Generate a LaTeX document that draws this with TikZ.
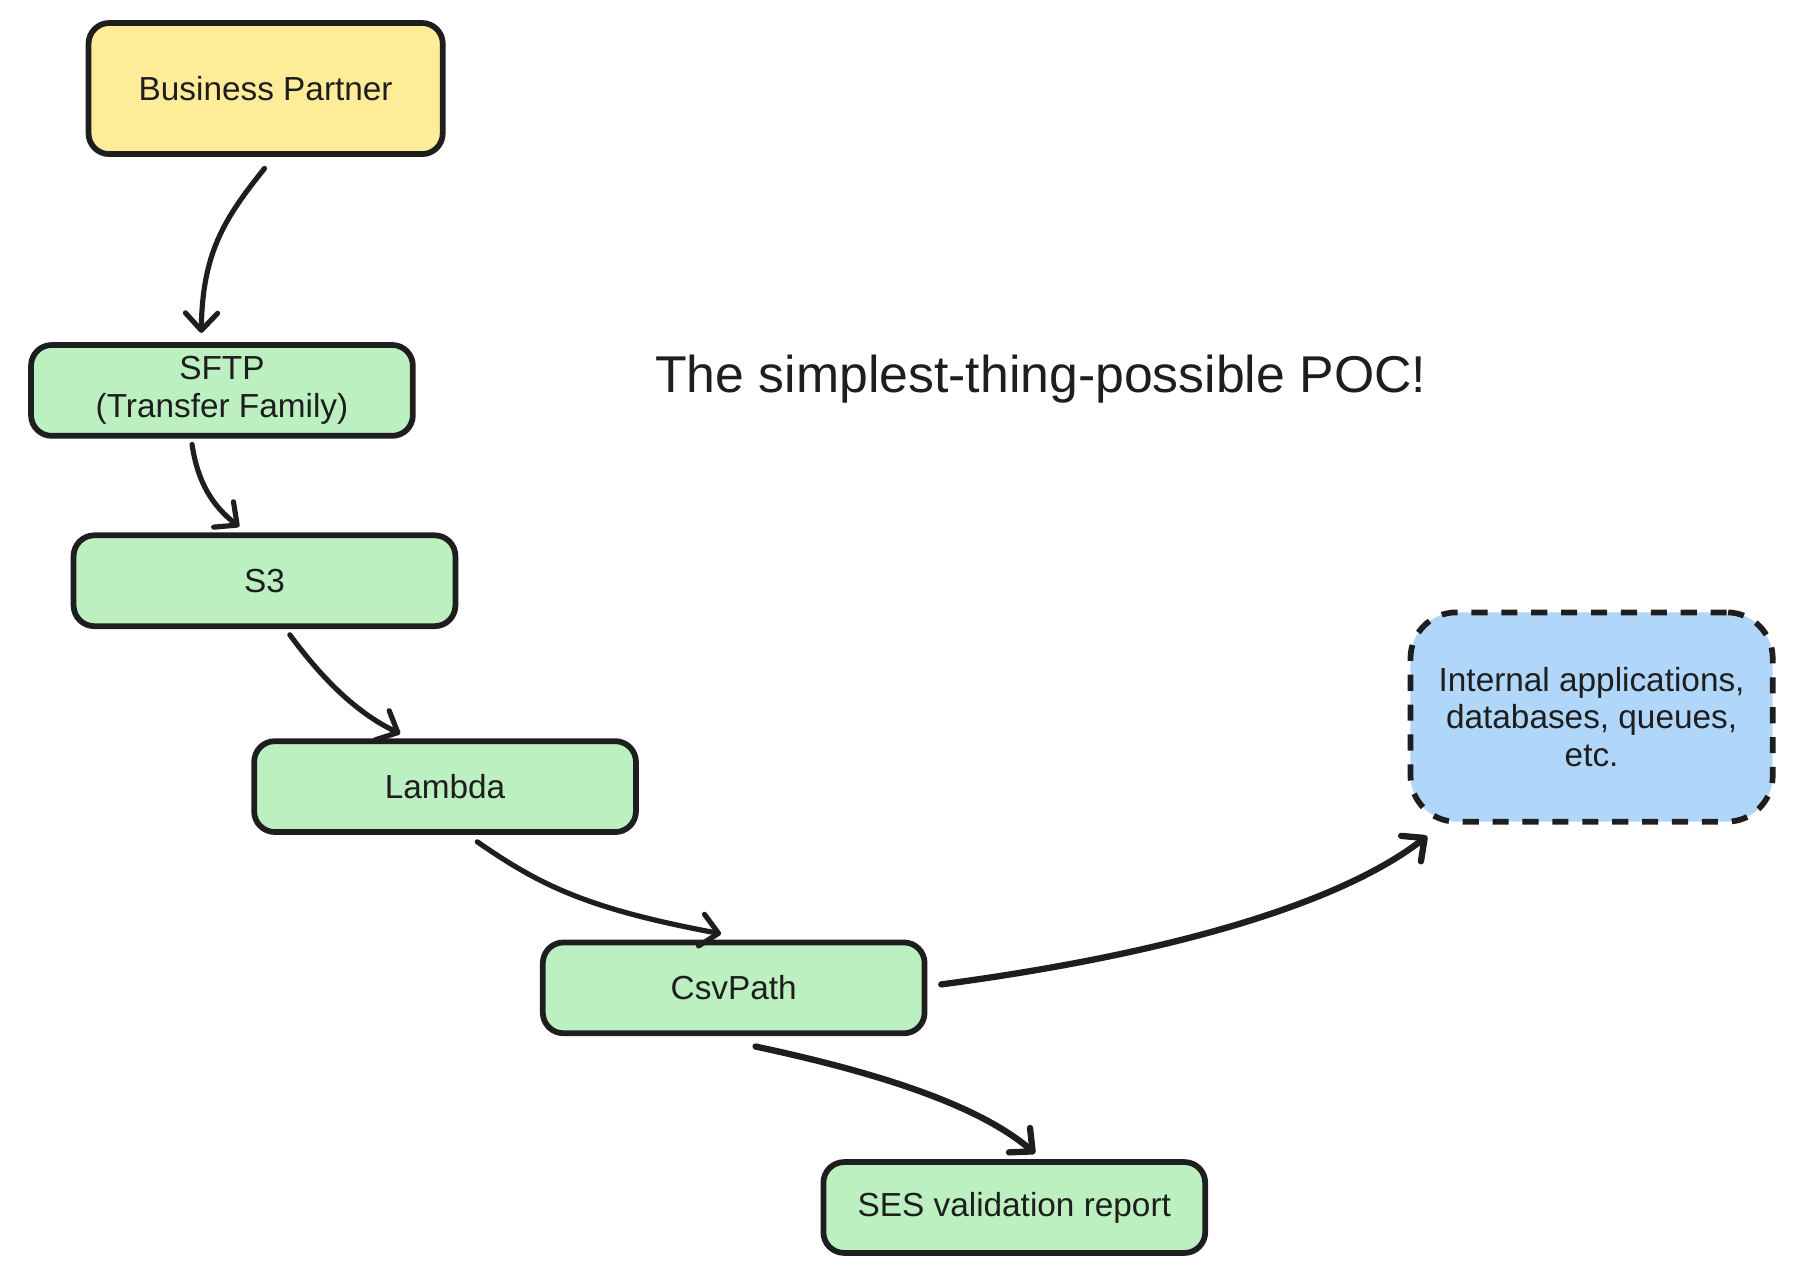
\documentclass[tikz,border=0pt]{standalone}
\usepackage{fontspec}
\setmainfont{Liberation Sans}
\usetikzlibrary{arrows.meta,calc}
\definecolor{bpyellow}{HTML}{FFEC99}
\definecolor{bxgreen}{HTML}{BCF0C0}
\definecolor{bxblue}{HTML}{B0D6FA}
\definecolor{ink}{HTML}{1E1E1E}
\begin{document}
\begin{tikzpicture}[x=1pt,y=-1pt,
  box/.style={draw=ink, line width=5pt, rounded corners=18pt, minimum width=332pt,
    minimum height=79pt, align=center, text=ink, inner sep=0pt,
    font=\fontsize{29}{33}\selectfont},
  greenbox/.style={box, fill=bxgreen},
  conn/.style={draw=ink, line width=4.5pt, line cap=round, line join=round,
    -{Straight Barb[length=15pt,width=28pt,line cap=round,line join=round]}},
  thickconn/.style={conn, line width=5.5pt}
]
\useasboundingbox (0,0) rectangle (1560,1108);

\node[box, fill=bpyellow, minimum width=308pt, minimum height=114pt] (bp) at (231,77) {Business Partner};
\node[greenbox] (sftp) at (193,339.5) {SFTP\\(Transfer Family)};
\node[greenbox] (s3) at (230,505) {S3};
\node[greenbox] (lambda) at (387,684) {Lambda};
\node[greenbox] (csv) at (638,859) {CsvPath};
\node[greenbox] (ses) at (882,1050) {SES validation report};
\node[draw=ink, fill=bxblue, line width=5pt, dash pattern=on 14pt off 12pt,
  rounded corners=40pt, minimum width=315pt, minimum height=182pt, align=center,
  text=ink, inner sep=0pt, font=\fontsize{29}{33}\selectfont] (int) at (1384,623.5)
  {Internal applications,\\databases, queues,\\etc.};
\node[text=ink, font=\fontsize{45}{52}\selectfont, inner sep=0pt] (title) at (905,330) {The simplest-thing-possible POC!};

\draw[conn] ($(bp.south)+(-1,10)$) .. controls (195,190) and (176,220) .. ($(sftp.north)+(-18,-8)$);
\draw[conn] ($(sftp.south)+(-26,5)$) .. controls (172,420) and (185,440) .. ($(s3.north)+(-22,-5)$);
\draw[conn] ($(s3.south)+(22,5)$) .. controls (280,590) and (310,620) .. ($(lambda.north)+(-39,-4)$);
\draw[conn] ($(lambda.south)+(28,6)$) .. controls (470,770) and (510,790) .. ($(csv.north)+(-11,-5)$);
\draw[thickconn] ($(csv.east)+(12,-3)$) .. controls (1000,832) and (1160,790) .. ($(int.south west)+(17,10)$);
\draw[thickconn] ($(csv.south)+(19,9)$) .. controls (760,932) and (850,960) .. ($(ses.north)+(18,-5)$);
\end{tikzpicture}
\end{document}
